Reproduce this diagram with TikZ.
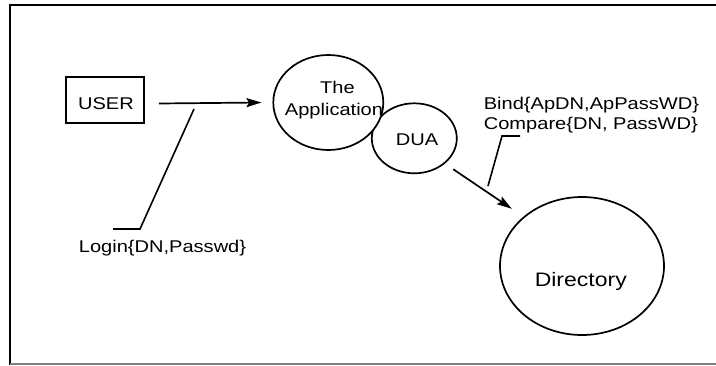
\documentclass[tikz,border=0pt]{standalone}
\usepackage{fontspec}
\setmainfont{Liberation Sans}[FakeStretch=1.18]
\usetikzlibrary{arrows.meta,shapes.geometric}

\begin{document}
\begin{tikzpicture}[x=1pt, y=-1pt,
  font=\fontsize{17}{20}\selectfont,
  line width=1.7pt,
  bubble/.style={draw, ellipse, fill=white, inner sep=0pt},
  txt/.style={inner sep=0pt, anchor=base},
  txtl/.style={inner sep=0pt, anchor=base west},
  flow/.style={-{Stealth[length=15pt,width=9pt,inset=2.5pt]}},
  lead/.style={line width=1.6pt}]
\useasboundingbox (0,0) rectangle (716,365);

% frame
\draw[line width=2pt] (716,5) -- (10,5) -- (10,365);
\draw[gray, line width=1.5pt] (10,364) -- (716,364);

% user box
\node[draw, minimum width=78pt, minimum height=46pt, inner sep=0pt] (user) at (105,100) {};
\node[txt] (usertxt) at (106,109.3) {USER};

% DUA sits behind the application bubble
\node[bubble, minimum width=85pt, minimum height=70pt] (dua) at (414.3,138.3) {};
\node[bubble, minimum width=110pt, minimum height=95pt] (app) at (328.3,102.5) {};
\node[txt] (apptxt1) at (337.5,93.3) {The};
\node[txt] (apptxt2) at (334,115) {Application};
\node[txt] (duatxt) at (417,145) {DUA};

% directory
\node[bubble, minimum width=164pt, minimum height=138pt] (dir) at (582,266) {};
\node[txt, font=\fontsize{19.5}{23}\selectfont] (dirtxt) at (580.8,286.5) {Directory};

% flows
\draw[flow] ([xshift=14pt,yshift=-1pt]user.east |- app.west) -- ([xshift=-11pt]app.west);
\draw[flow, shorten <=10pt, shorten >=14pt] (dua.south east) -- (dir.north west);

% annotations
\node[txtl] (login) at (78,252) {Login\{DN,Passwd\}};
\coordinate (l1) at (194,109);
\coordinate (l2) at (140,229);
\coordinate (l3) at (113,229);
\draw[lead] (l1) -- (l2) -- (l3);

\node[txtl] (bind) at (483,109) {Bind\{ApDN,ApPassWD\}};
\node[txtl] (cmp) at (483,129.3) {Compare\{DN, PassWD\}};
\coordinate (b1) at (488,186);
\coordinate (b2) at (502,136);
\coordinate (b3) at (520,136);
\draw[lead] (b1) -- (b2) -- (b3);
\end{tikzpicture}
\end{document}
